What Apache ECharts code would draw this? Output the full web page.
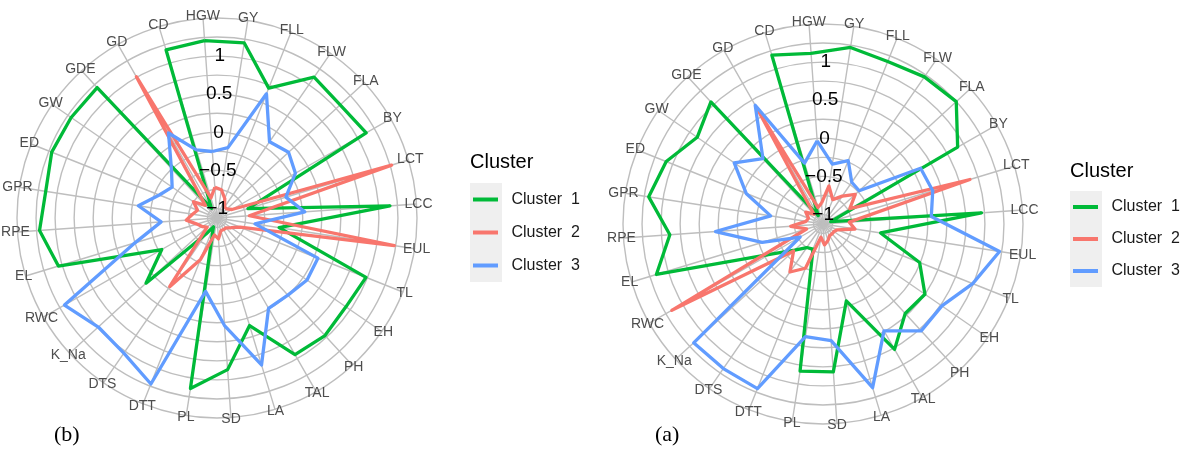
<!DOCTYPE html>
<html>
<head>
<meta charset="utf-8">
<script src="https://cdn.jsdelivr.net/npm/echarts@6/dist/echarts.min.js"></script>
<style>
  html, body { margin: 0; padding: 0; background: #ffffff; }
  #chart { width: 1188px; height: 452px; }
</style>
</head>
<body>
<div id="chart"></div>
<script>
// Traits, listed clockwise starting from the top of each radar
const traits = ['HGW', 'GY', 'FLL', 'FLW', 'FLA', 'BY', 'LCT', 'LCC', 'EUL', 'TL', 'EH', 'PH',
  'TAL', 'LA', 'SD', 'PL', 'DTT', 'DTS', 'K_Na', 'RWC', 'EL', 'RPE', 'GPR', 'ED', 'GW', 'GDE', 'GD', 'CD'];

const clusterNames = ['Cluster  1', 'Cluster  2', 'Cluster  3'];
const clusterColors = ['#00BA38', '#F8766D', '#619CFF'];
const scaleTicks = [-1, -0.5, 0, 0.5, 1];
const panelLabels = ['(b)', '(a)'];

// Panel (b): standardised cluster means, same order as traits
const b_cluster1 = [1.21, 1.20, 0.71, 1.12, 1.07, 1.13, -0.70, 1.15, -0.30, 0.98, 0.93, 0.97, 0.94, 0.35,
  0.87, 1.14, -1.00, -0.87, 0.14, -0.29, 1.05, 1.21, 1.15, 1.21, 1.20, 1.20, -0.98, 1.18];
const b_cluster2 = [-0.72, -0.75, -0.85, -0.95, -0.95, -0.90, 1.27, -0.70, 1.23, -0.80, -0.90, -0.95, -0.95, -0.95,
  -0.85, -0.90, -0.54, -0.03, -0.95, -0.90, -0.85, -0.72, -0.80, -0.85, -0.75, -0.90, 1.01, -0.85];
const b_cluster3 = [-0.25, -0.19, 0.63, 0.09, 0.15, 0.06, -0.18, 0.03, -0.62, 0.30, 0.31, 0.25, 0.24, 0.89,
  0.29, -0.15, 1.22, 1.03, 0.99, 1.18, 0.00, -0.39, -0.08, -0.31, -0.41, -0.24, 0.16, -0.19];

// Panel (a)
const a_cluster1 = [1.12, 1.22, 1.17, 1.22, 1.25, 0.91, -1.02, 0.96, -0.36, 0.24, 0.50, 0.47, 0.77, -0.07,
  0.82, 0.83, -0.77, -0.75, -0.62, -0.32, 1.16, 0.89, 1.19, 1.09, 0.88, 1.05, -1.00, 1.19];
const a_cluster2 = [-0.85, -0.62, -0.78, -0.68, -0.55, -0.72, 0.89, -0.78, -0.70, -0.92, -0.95, -0.95, -0.95, -0.90,
  -0.85, -0.95, -0.50, -0.36, -0.60, 1.16, -0.90, -0.70, -0.90, -0.92, -0.85, -0.95, 0.62, -0.90];
const a_cluster3 = [-0.03, -0.33, -0.23, -0.46, -0.48, 0.35, 0.38, 0.30, 1.22, 0.99, 0.77, 0.78, 0.49, 1.12,
  0.41, 0.37, 1.20, 1.18, 1.18, -0.78, -0.29, 0.29, -0.43, -0.04, 0.29, 0.04, 0.67, -0.29];

const panels = [
  { clusters: [b_cluster1, b_cluster2, b_cluster3], center: [217, 218] },
  { clusters: [a_cluster1, a_cluster2, a_cluster3], center: [823, 224] }
];

// ECharts places radar indicators counter-clockwise; reverse everything after the first
// entry so the traits run clockwise.
const clockwise = arr => [arr[0]].concat(arr.slice(1).reverse());

const RMIN = -1.125, RMAX = 1.5, RADIUS = 200;
const FONT = 'Liberation Sans, Arial, sans-serif';
const GRID = '#bebebe';

const fmtTick = v => {
  const r = Math.round(v * 1000) / 1000;
  if (scaleTicks.indexOf(r) < 0) return '';
  return r < 0 ? '\u2212' + Math.abs(r) : String(r);
};

const radar = panels.map(p => ({
  center: p.center,
  radius: RADIUS,
  startAngle: 94,
  shape: 'circle',
  splitNumber: 21,
  indicator: clockwise(traits).map(n => ({ name: n, min: RMIN, max: RMAX })),
  nameGap: 2,
  axisName: {
    color: '#4d4d4d', fontSize: 14, fontFamily: FONT,
    align: 'center', verticalAlign: 'middle'
  },
  axisLine: { lineStyle: { color: GRID, width: 1.4 } },
  axisTick: { show: false },
  splitLine: { lineStyle: { color: ['rgba(0,0,0,0)', GRID], width: 1.4 } },
  splitArea: { show: false }
}));

// Polar systems only carry the numeric scale labels up the middle of each radar
const polar = panels.map(p => ({ center: p.center, radius: RADIUS }));
const angleAxis = panels.map((p, i) => ({ polarIndex: i, show: false, startAngle: 89, type: 'value', min: 0, max: 360 }));
const radiusAxis = panels.map((p, i) => ({
  polarIndex: i, type: 'value', min: RMIN, max: RMAX, interval: 0.125, z: 10,
  axisLine: { show: false }, axisTick: { show: false }, splitLine: { show: false },
  axisLabel: {
    formatter: fmtTick, margin: 0, align: 'center', verticalAlign: 'middle',
    color: '#000000', fontSize: 19, fontFamily: FONT
  }
}));

const series = [];
panels.forEach((p, pi) => {
  p.clusters.forEach((vals, ci) => {
    series.push({
      type: 'radar',
      radarIndex: pi,
      name: clusterNames[ci],
      symbol: 'none',
      silent: true,
      z: 2 + ci,
      lineStyle: { color: clusterColors[ci], width: 3.3 },
      itemStyle: { color: clusterColors[ci] },
      data: [{ name: clusterNames[ci], value: clockwise(vals) }]
    });
  });
});

const legendSpots = [
  { left: 470, top: 183, pitch: 33, titleTop: 152 },
  { left: 1070, top: 191, pitch: 32, titleTop: 161 }
];

const legend = [];
const title = [];
legendSpots.forEach((s, i) => {
  // grey key backgrounds
  legend.push({
    orient: 'vertical', left: s.left, top: s.top, padding: 0, itemGap: 0,
    icon: 'rect', itemWidth: 32, itemHeight: s.pitch, selectedMode: false,
    itemStyle: { color: '#efefef' }, formatter: () => '',
    textStyle: { fontSize: 1 }, data: clusterNames
  });
  // key lines and labels
  legend.push({
    orient: 'vertical', left: s.left + 3, top: s.top, padding: 0, itemGap: 0,
    icon: 'path://M0,0H25V4H0Z', itemWidth: 26, itemHeight: 4, selectedMode: false,
    textStyle: { fontSize: 16, fontFamily: FONT, color: '#1a1a1a', lineHeight: s.pitch, padding: [0, 0, 0, 8] },
    data: clusterNames
  });
  title.push({
    text: 'Cluster', left: s.left, top: s.titleTop, padding: 0,
    textStyle: { fontSize: 20, fontWeight: 'normal', fontFamily: FONT, color: '#000000' }
  });
});
title.push({ text: panelLabels[0], left: 54, top: 424, padding: 0,
  textStyle: { fontSize: 22, fontWeight: 'normal', fontFamily: 'Liberation Serif, Times New Roman, serif', color: '#000' } });
title.push({ text: panelLabels[1], left: 655, top: 424, padding: 0,
  textStyle: { fontSize: 22, fontWeight: 'normal', fontFamily: 'Liberation Serif, Times New Roman, serif', color: '#000' } });

const chart = echarts.init(document.getElementById('chart'), null, { renderer: 'canvas' });
chart.setOption({
  backgroundColor: '#ffffff',
  animation: false,
  textStyle: { fontFamily: FONT },
  title, legend, radar, polar, angleAxis, radiusAxis, series
});
</script>
</body>
</html>
